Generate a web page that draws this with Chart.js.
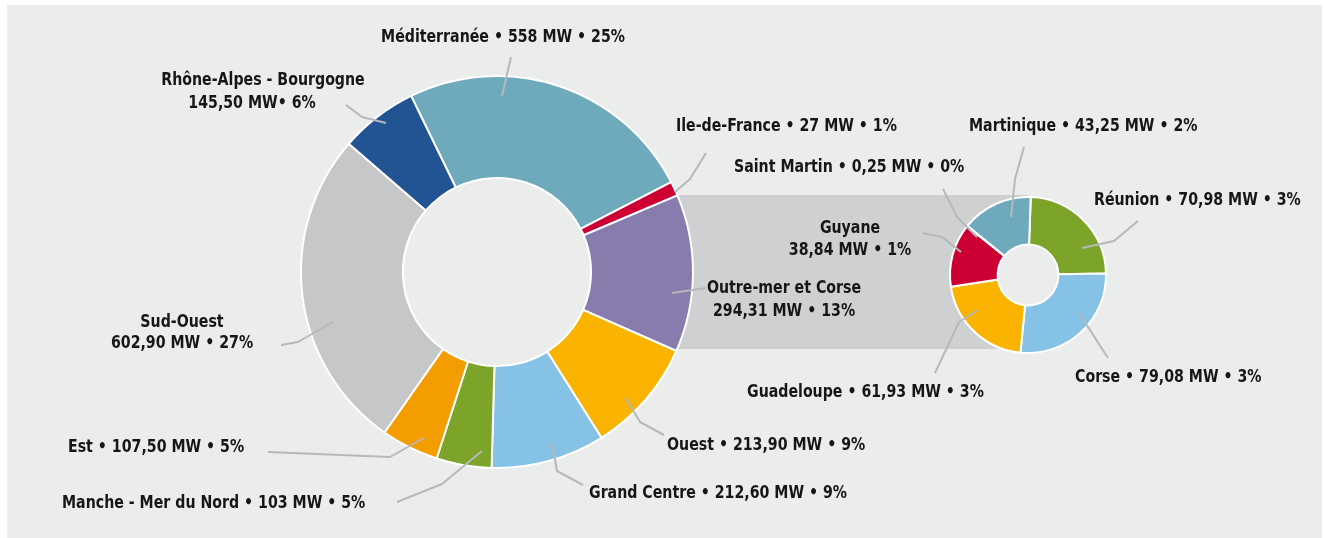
<!DOCTYPE html>
<html>
<head>
<meta charset="utf-8">
<script src="https://cdn.jsdelivr.net/npm/chart.js@4.4.1/dist/chart.umd.min.js"></script>
<style>
  html,body{margin:0;padding:0;background:#fff;}
  #wrap{position:relative;width:1324px;height:538px;overflow:hidden;}
  #panel{position:absolute;left:7px;top:5px;width:1315px;height:533px;background:#ebedec;}
  canvas{position:absolute;left:0;top:0;}
</style>
</head>
<body>
<div id="wrap">
  <div id="panel"></div>
  <canvas id="main" width="1324" height="538"></canvas>
  <canvas id="dom" width="1324" height="538"></canvas>
</div>
<script>
// Data
const mainLabels = ["Méditerranée","Ile-de-France","Outre-mer et Corse","Ouest","Grand Centre","Manche - Mer du Nord","Est","Sud-Ouest","Rhône-Alpes - Bourgogne"];
const mainValues = [558, 27, 294.31, 213.90, 212.60, 103, 107.50, 602.90, 145.50];
const mainPct    = [25, 1, 13, 9, 9, 5, 5, 27, 6];

const domLabels = ["Réunion","Corse","Guadeloupe","Guyane","Saint Martin","Martinique"];
const domValues = [70.98, 79.08, 61.93, 38.84, 0.25, 43.25];
const domPct    = [3, 3, 3, 1, 0, 2];

// Colours
const mainColors = ["#6fa9bc","#cc0033","#877cad","#f9b300","#86c2e6","#7ba428","#f39d00","#c6c7c9","#225393"];
const domColors  = ["#7ba428","#86c2e6","#f9b300","#cc0033","#6fa9bc","#6fa9bc"];

const FONT = "bold 18px 'DejaVu Sans Condensed', sans-serif";
const SX = 0.875; // narrow the glyphs, the original uses a condensed face
const LEAD = "#b7b8ba";

const fmt = v => Number.isInteger(v) ? String(v) : v.toFixed(2).replace(".", ",");
const valText = (v,p,tight) => fmt(v) + (tight ? " MW• " : " MW • ") + p + "%";

// label layout: one line = {x,y,align}; two lines = {x,y,x2,y2}
const mainLayout = [
  {x:503, y:37, align:"center"},
  {x:676, y:126, align:"left"},
  {x:784, y:288, x2:784, y2:311},
  {x:667, y:445, align:"left"},
  {x:589, y:493, align:"left"},
  {x:62,  y:503, align:"left"},
  {x:68,  y:447, align:"left"},
  {x:182, y:322, x2:182, y2:343},
  {x:263, y:80,  x2:252, y2:103, tight:true}
];
const mainLeaders = [
  [[502,96],[511,57]],
  [[675,192],[690,179],[706,153]],
  [[672,293],[706,288]],
  [[626,398],[640,422],[664,435]],
  [[552,443],[557,471],[583,485]],
  [[482,451],[442,484],[397,502]],
  [[424,438],[390,457],[268,452]],
  [[333,322],[298,342],[281,345]],
  [[386,123],[362,117],[346,105]]
];

const domLayout = [
  {x:1094, y:200, align:"left"},
  {x:1075, y:377, align:"left"},
  {x:747,  y:392, align:"left"},
  {x:850,  y:228, x2:850, y2:250},
  {x:734,  y:167, align:"left"},
  {x:969,  y:126, align:"left"}
];
const domLeaders = [
  [[1082,248],[1114,241],[1138,221]],
  [[1079,313],[1108,358]],
  [[978,310],[959,322],[935,373]],
  [[961,252],[942,237],[923,233]],
  [[977,237],[957,217],[943,189]],
  [[1011,217],[1015,179],[1024,147]]
];

function text(ctx, s, x, y, align){
  ctx.save();
  ctx.translate(x, y);
  ctx.scale(SX, 1);
  ctx.textAlign = align;
  ctx.fillText(s, 0, 0);
  ctx.restore();
}

function drawLabels(ctx, labels, values, pct, layout, leaders){
  ctx.save();
  ctx.strokeStyle = LEAD;
  ctx.lineWidth = 2;
  ctx.lineJoin = "round";
  leaders.forEach(pts => {
    ctx.beginPath();
    pts.forEach((p,i) => i ? ctx.lineTo(p[0],p[1]) : ctx.moveTo(p[0],p[1]));
    ctx.stroke();
  });
  ctx.fillStyle = "#161616";
  ctx.font = FONT;
  ctx.textBaseline = "middle";
  labels.forEach((name,i) => {
    const L = layout[i];
    if (L.x2 !== undefined){
      text(ctx, name, L.x, L.y, "center");
      text(ctx, valText(values[i], pct[i], L.tight), L.x2, L.y2, "center");
    } else {
      text(ctx, name + " • " + valText(values[i], pct[i]), L.x, L.y, L.align);
    }
  });
  ctx.restore();
}

// grey band linking "Outre-mer et Corse" to the detail doughnut
const band = {top:195, bottom:349, left:620};

let domChart = null;

const mainPlugin = {
  id:"mainDeco",
  beforeDatasetsDraw(chart){
    const ctx = chart.ctx;
    const d = domChart.getDatasetMeta(0).data[0];
    const cx = d.x, cy = d.y, r = domChart.getDatasetMeta(0).controller.innerRadius || 31;
    ctx.save();
    ctx.fillStyle = "#cfd0d2";
    ctx.fillRect(band.left, band.top, cx - band.left, band.bottom - band.top);
    ctx.globalCompositeOperation = "destination-out";
    ctx.beginPath();
    ctx.arc(cx, cy, r + 1, 0, Math.PI*2);
    ctx.fill();
    ctx.restore();
  },
  afterDraw(chart){
    drawLabels(chart.ctx, mainLabels, mainValues, mainPct, mainLayout, mainLeaders);
  }
};
const domPlugin = {
  id:"domDeco",
  afterDraw(chart){
    drawLabels(chart.ctx, domLabels, domValues, domPct, domLayout, domLeaders);
  }
};

const commonOpts = {
  responsive:false,
  animation:false,
  plugins:{legend:{display:false}, tooltip:{enabled:false}},
};

domChart = new Chart(document.getElementById("dom").getContext("2d"), {
  type:"doughnut",
  data:{labels:domLabels, datasets:[{data:domValues, backgroundColor:domColors, borderColor:"#ffffff", borderWidth:2}]},
  options:{...commonOpts, cutout:"39%", rotation:2,
    layout:{padding:{left:949, top:196, right:1324-949-158, bottom:538-196-158}}},
  plugins:[domPlugin]
});

const mainChart = new Chart(document.getElementById("main").getContext("2d"), {
  type:"doughnut",
  data:{labels:mainLabels, datasets:[{data:mainValues, backgroundColor:mainColors, borderColor:"#ffffff", borderWidth:2}]},
  options:{...commonOpts, cutout:"48%", rotation:-26,
    layout:{padding:{left:300, top:75, right:1324-300-394, bottom:538-75-394}}},
  plugins:[mainPlugin]
});
</script>
</body>
</html>
